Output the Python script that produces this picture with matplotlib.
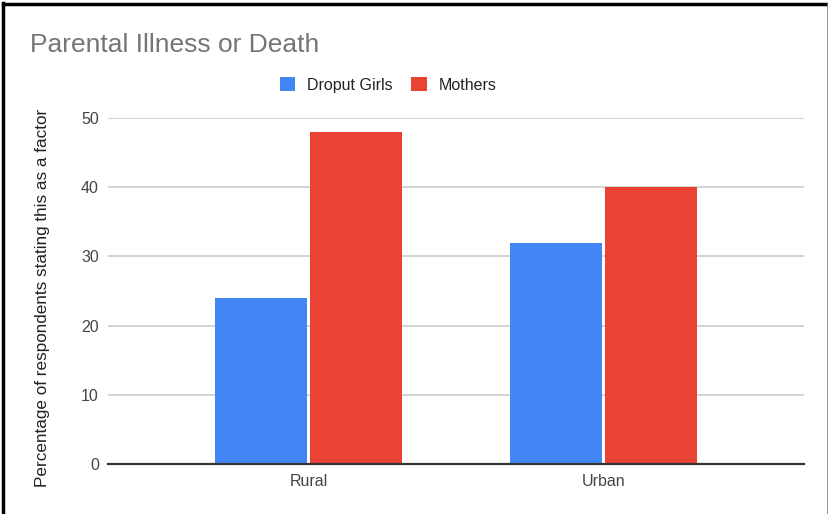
import matplotlib
matplotlib.use("Agg")
import matplotlib.pyplot as plt
from matplotlib.patches import Patch
from matplotlib.lines import Line2D
import numpy as np

categories = ["Rural", "Urban"]
dropout_girls = [24, 32]
mothers = [48, 40]
series_names = ["Droput Girls", "Mothers"]
yticks = [0, 10, 20, 30, 40, 50]

plt.rcParams['font.family'] = ['Liberation Sans', 'DejaVu Sans']

fig = plt.figure(figsize=(8.29, 5.14), dpi=100)
fig.patch.set_facecolor('white')
ax = fig.add_axes([108/829, 1-464/514, (804-108)/829, (464-118)/514])

x = np.arange(len(categories))
w = 0.312
blue = '#4285f4'
red = '#ea4335'
ax.bar(x - 0.163, dropout_girls, width=w, color=blue, zorder=3)
ax.bar(x + 0.161, mothers, width=w, color=red, zorder=3)

ax.set_xlim(-0.681, 1.678)
ax.set_ylim(0, 50)
ax.set_yticks(yticks)
ax.set_xticks(x)
ax.set_xticklabels(categories)
ax.tick_params(axis='both', length=0, labelsize=11.5, colors='#444444')
ax.tick_params(axis='y', pad=6.5)
ax.tick_params(axis='x', pad=7)
ax.yaxis.grid(True, color='#cccccc', linewidth=1.2, zorder=0)
for s in ['top', 'right', 'left']:
    ax.spines[s].set_visible(False)
ax.spines['bottom'].set_color('#333333')
ax.spines['bottom'].set_linewidth(1.6)
ax.spines['bottom'].set_zorder(4)
ax.set_ylabel("Percentage of respondents stating this as a factor", fontsize=12.3,
              color='#222222')
ax.yaxis.set_label_coords(-0.084, 0.48)

fig.text(30/829, 1-45/514, "Parental Illness or Death", fontsize=19,
         color='#757575', va='center', ha='left')

handles = [Patch(facecolor=blue, edgecolor='none'), Patch(facecolor=red, edgecolor='none')]
fig.legend(handles, series_names, loc='center', bbox_to_anchor=(388/829, 1-85/514),
           ncol=2, frameon=False, fontsize=11.5, handlelength=1.0, handleheight=1.0,
           handletextpad=0.7, columnspacing=1.2, labelcolor='#222222')

# frame border
fig.add_artist(Line2D([3/829, 3/829], [0, 1-3/514], color='black', linewidth=2.5, transform=fig.transFigure))
fig.add_artist(Line2D([3/829, 1], [1-4/514, 1-4/514], color='black', linewidth=2.5, transform=fig.transFigure))
fig.add_artist(Line2D([828/829, 828/829], [0, 1-4/514], color='#888888', linewidth=1.2, transform=fig.transFigure))

fig.savefig("out.png", dpi=100)
